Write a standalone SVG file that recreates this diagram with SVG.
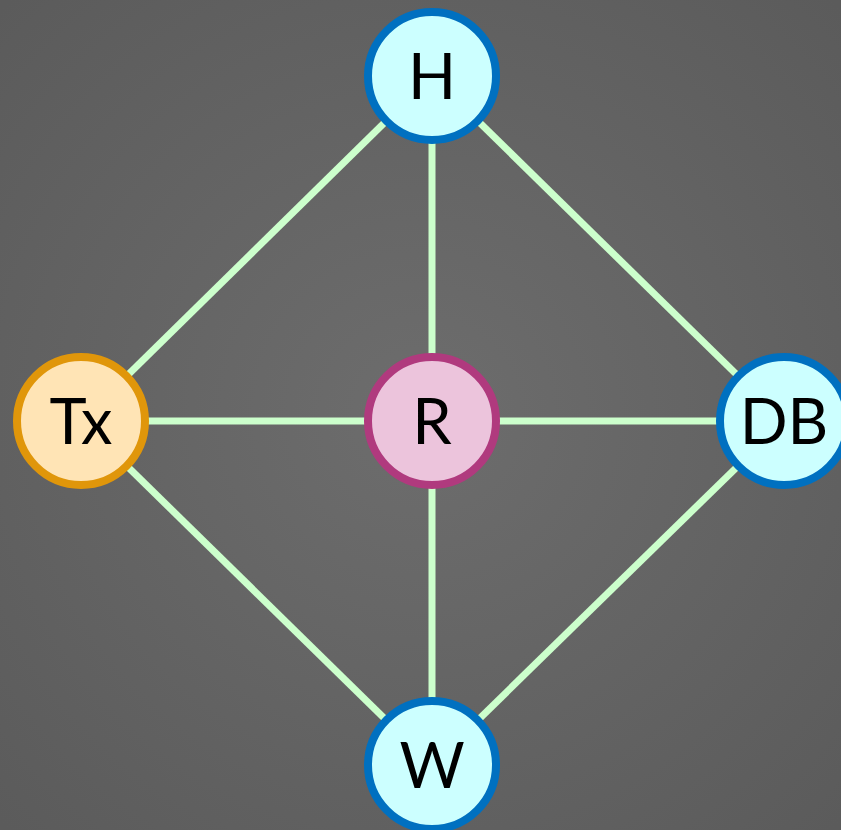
<svg xmlns="http://www.w3.org/2000/svg" width="841" height="830" viewBox="0 0 841 830">
<defs>
<radialGradient id="bg" cx="50%" cy="50%" r="70%">
<stop offset="0" stop-color="#6d6d6d"/>
<stop offset="1" stop-color="#5b5b5b"/>
</radialGradient>
<style>
.edge{stroke:#ccffcc;stroke-width:7;fill:none}
.blue{fill:#ccffff;stroke:#0070c0;stroke-width:8}
.orange{fill:#ffe4b5;stroke:#e0960a;stroke-width:8}
.pink{fill:#ecc4dc;stroke:#b03a7e;stroke-width:8}
text{font-family:Lato,"Open Sans","Liberation Sans",sans-serif;font-size:63px;fill:#000;text-anchor:middle}
</style>
</defs>
<rect width="841" height="830" fill="url(#bg)"/>
<g id="connectors">
<line class="edge" x1="432" y1="76" x2="81" y2="421"/>
<line class="edge" x1="432" y1="76" x2="432" y2="421"/>
<line class="edge" x1="432" y1="76" x2="784" y2="421"/>
<line class="edge" x1="81" y1="421" x2="784" y2="421"/>
<line class="edge" x1="81" y1="421" x2="432" y2="765"/>
<line class="edge" x1="432" y1="421" x2="432" y2="765"/>
<line class="edge" x1="784" y1="421" x2="432" y2="765"/>
</g>
<g id="H"><circle class="blue" cx="432" cy="76" r="64"/><text x="432" y="99">H</text></g>
<g id="Tx"><circle class="orange" cx="81" cy="421" r="64"/><text x="81" y="444">Tx</text></g>
<g id="R"><circle class="pink" cx="432" cy="421" r="64"/><text x="432" y="444">R</text></g>
<g id="DB"><circle class="blue" cx="784" cy="421" r="64"/><text x="784" y="444">DB</text></g>
<g id="W"><circle class="blue" cx="432" cy="765" r="64"/><text x="432" y="788">W</text></g>
</svg>
